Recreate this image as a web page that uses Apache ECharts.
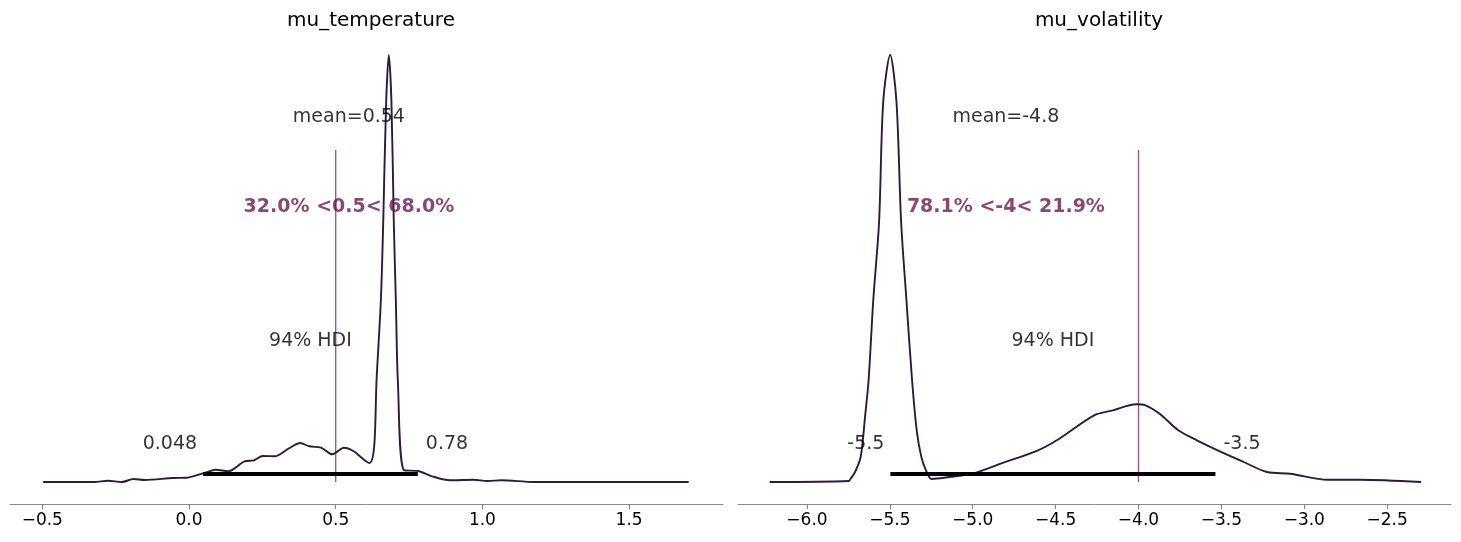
<!DOCTYPE html>
<html>
<head>
<meta charset="utf-8">
<script src="https://cdn.jsdelivr.net/npm/echarts@6/dist/echarts.min.js"></script>
<style>html,body{margin:0;padding:0;background:#fff}#container{width:1461px;height:542px}</style>
</head>
<body>
<div id="container"></div>
<script>
// density curves (x, relative density)
var tempCurve = [[-0.497,0],[-0.323,0],[-0.276,1.3],[-0.229,0],[-0.189,3],[-0.15,2],[-0.055,4],[-0.008,4.3],
  [0.055,9.3],[0.09,12.3],[0.134,10.7],[0.189,20.7],[0.221,21.7],[0.252,26],[0.292,25.7],[0.339,33.3],
  [0.379,39],[0.41,35.7],[0.45,34.3],[0.489,27.7],[0.528,34.3],[0.56,31],[0.615,19],[0.631,35],[0.639,100],
  [0.654,182],[0.662,260],[0.672,380],[0.681,427],[0.69,380],[0.698,260],[0.705,182],[0.712,100],
  [0.733,11.7],[0.78,11],[0.828,5.7],[0.89,1.7],[0.97,2.3],[1.017,1],[1.065,1.7],[1.175,0],[1.703,0]];
var volCurve = [[-6.225,0],[-5.746,1],[-5.738,3],[-5.71,10],[-5.676,25],[-5.648,68],[-5.628,102],[-5.6,182],
  [-5.565,260],[-5.54,380],[-5.498,427],[-5.46,380],[-5.432,260],[-5.4,182],[-5.366,102],[-5.338,51.7],
  [-5.31,25],[-5.282,11.7],[-5.248,3],[-5.14,5],[-5.0,8.3],[-4.831,18.3],[-4.606,31.7],[-4.493,41.7],
  [-4.268,66.7],[-4.155,71.7],[-4.014,77.7],[-3.958,76.7],[-3.873,68.3],[-3.76,51.7],[-3.648,41.7],
  [-3.479,28.3],[-3.366,20],[-3.225,10],[-3.085,8.3],[-2.86,2.3],[-2.662,2.3],[-2.296,0]];
var titles = ['mu_temperature', 'mu_volatility'];
var hdiLow = [0.048, -5.497];
var hdiHigh = [0.78, -3.536];
var hdiText = [['0.048', '0.78'], ['-5.5', '-3.5']];
var means = [0.545, -4.8];
var meanText = ['mean=0.54', 'mean=-4.8'];
var refVals = [0.5, -4];
var refText = ['32.0% <0.5< 68.0%', '78.1% <-4< 21.9%'];
var tickVals = [[-0.5, 0, 0.5, 1.0, 1.5], [-6, -5.5, -5, -4.5, -4, -3.5, -3, -2.5]];
var xRange = [[-0.61, 1.82], [-6.416, -2.115]];

var chart = echarts.init(document.getElementById('container'));
var lineCol = '#2d1a3d', refCol = '#9a5a8c', txtCol = '#6a1a4e';
var grids = [], xAxes = [], yAxes = [], series = [], titleOpt = [];
var lefts = [10, 738];

for (var i = 0; i < 2; i++) {
  grids.push({left: lefts[i], width: 713, top: 40, bottom: 38});
  titleOpt.push({text: titles[i], left: lefts[i] + 356, top: 6, textAlign: 'center',
    textStyle: {fontSize: 20, fontWeight: 'normal', color: '#000', fontFamily: 'DejaVu Sans'}});
  xAxes.push({type: 'value', gridIndex: i, min: xRange[i][0], max: xRange[i][1],
    splitLine: {show: false},
    axisLine: {onZero: false, lineStyle: {color: '#888'}},
    axisTick: {customValues: tickVals[i], length: 5, lineStyle: {color: '#888'}},
    axisLabel: {customValues: tickVals[i], fontSize: 17, color: '#000', fontFamily: 'DejaVu Sans', margin: 8,
      formatter: function (v) { return v.toFixed(1).replace('-', '\u2212'); }}});
  yAxes.push({type: 'value', gridIndex: i, min: -22, max: 442, show: false, splitLine: {show: false}});
  series.push({type: 'line', xAxisIndex: i, yAxisIndex: i, data: i ? volCurve : tempCurve,
    smooth: 0.3, symbol: 'none', lineStyle: {color: lineCol, width: 1.9}, z: 3});
  series.push({type: 'line', xAxisIndex: i, yAxisIndex: i, data: [[refVals[i], 0], [refVals[i], 332]],
    symbol: 'none', lineStyle: {color: refCol, width: 1.4}, z: 2});
  series.push({type: 'line', xAxisIndex: i, yAxisIndex: i, data: [[hdiLow[i], 8], [hdiHigh[i], 8]],
    symbol: 'none', lineStyle: {color: '#000', width: 4}, z: 4});
  var fnt = {fontSize: 19, color: '#000', fontFamily: 'DejaVu Sans', textBorderWidth: 0};
  series.push({type: 'scatter', xAxisIndex: i, yAxisIndex: i, symbolSize: 0, z: 5,
    itemStyle: {color: '#000'},
    label: {show: true, position: 'inside', formatter: '{b}', color: '#000', textBorderWidth: 0},
    data: [
      {name: meanText[i], value: [means[i], 365], label: fnt},
      {name: refText[i], value: [means[i], 275], label: Object.assign({}, fnt, {fontWeight: 'bold', color: txtCol})},
      {name: '94% HDI', value: [(hdiLow[i] + hdiHigh[i]) / 2, 141], label: fnt},
      {name: hdiText[i][0], value: [hdiLow[i], 38], label: Object.assign({align: 'right', offset: [-6, 0]}, fnt)},
      {name: hdiText[i][1], value: [hdiHigh[i], 38], label: Object.assign({align: 'left', offset: [8, 0]}, fnt)}
    ]});
}

chart.setOption({backgroundColor: '#fff', animation: false, title: titleOpt,
  grid: grids, xAxis: xAxes, yAxis: yAxes, series: series});
</script>
</body>
</html>
